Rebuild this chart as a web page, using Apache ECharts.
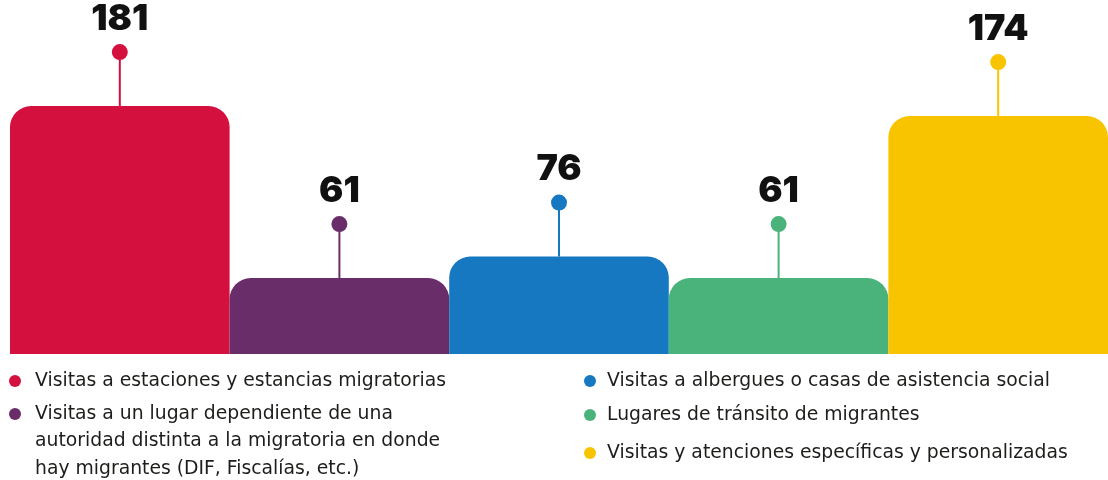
<!DOCTYPE html>
<html>
<head>
<meta charset="utf-8">
<script src="https://cdn.jsdelivr.net/npm/echarts@6/dist/echarts.min.js"></script>
<style>
  html, body { margin: 0; padding: 0; background: #ffffff; }
  #chart { width: 1108px; height: 480px; }
</style>
</head>
<body>
<div id="chart"></div>
<script>
// Tipos de visita y número de visitas realizadas
const seriesNames = [
  'Visitas a estaciones y estancias migratorias',
  'Visitas a un lugar dependiente de una\nautoridad distinta a la migratoria en donde\nhay migrantes (DIF, Fiscalías, etc.)',
  'Visitas a albergues o casas de asistencia social',
  'Lugares de tránsito de migrantes',
  'Visitas y atenciones específicas y personalizadas'
];
const values = [181, 61, 76, 61, 174];
const colors = ['#D4103F', '#692D6A', '#1578C0', '#4AB27B', '#F8C400'];

// Layout of the key below the bars: column x (dot centre, text start) and row centres
const keyColumns = [
  { dotX: 15, textX: 35, rows: [381, 414], items: [0, 1] },
  { dotX: 590, textX: 607, rows: [381, 415, 453], items: [2, 3, 4] }
];

const STEM = 54;
const LINE_H = 27.5;
const KEY_FONT = '18.8px "DejaVu Sans"';

const chart = echarts.init(document.getElementById('chart'));

const barSeries = seriesNames.map((name, i) => ({
  type: 'bar',
  name: name,
  stack: 'total',
  barWidth: '100%',
  data: values.map((v, j) => (j === i ? v : '-')),
  itemStyle: { color: colors[i], borderRadius: [21, 21, 0, 0] },
  emphasis: { disabled: true }
}));

const pinSeries = {
  type: 'custom',
  name: 'valores',
  data: values.map((v, i) => [i, v]),
  z: 5,
  clip: false,
  renderItem: function (params, api) {
    const i = api.value(0);
    const p = api.coord([i, api.value(1)]);
    const dotY = p[1] - STEM;
    const c = colors[i];
    return {
      type: 'group',
      children: [
        { type: 'line', shape: { x1: p[0], y1: p[1], x2: p[0], y2: dotY },
          style: { stroke: c, lineWidth: 2 } },
        { type: 'circle', shape: { cx: p[0], cy: dotY, r: 8 }, style: { fill: c } },
        { type: 'text', style: {
            text: String(api.value(1)), x: p[0], y: dotY - 33,
            align: 'center', verticalAlign: 'middle',
            fontFamily: 'Inter', fontWeight: 900, fontSize: 36, fill: '#111111' } }
      ]
    };
  }
};

// Key: coloured dot plus the category name, first line aligned with the dot
const keyGraphics = [];
keyColumns.forEach(col => {
  col.items.forEach((idx, r) => {
    const y = col.rows[r];
    keyGraphics.push({
      type: 'circle', shape: { cx: col.dotX, cy: y, r: 6 },
      style: { fill: colors[idx] }, silent: true
    });
    keyGraphics.push({
      type: 'text', x: col.textX, y: y - LINE_H / 2, silent: true,
      style: {
        text: seriesNames[idx], font: KEY_FONT, fill: '#1d1d1b',
        lineHeight: LINE_H, verticalAlign: 'top', align: 'left'
      }
    });
  });
});

chart.setOption({
  animation: false,
  grid: { left: 10, right: 0, top: 0, bottom: 126 },
  xAxis: { type: 'category', data: seriesNames, show: false },
  yAxis: { type: 'value', min: 8, max: 255, show: false },
  graphic: keyGraphics,
  series: barSeries.concat([pinSeries])
});
</script>
</body>
</html>
